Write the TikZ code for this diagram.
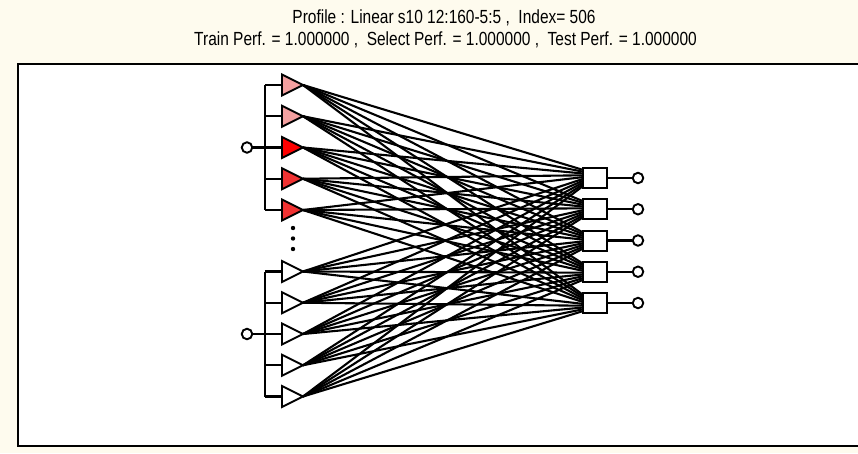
\documentclass[tikz,border=0pt]{standalone}
\usepackage{fontspec}
\newfontfamily\titlefont[FakeStretch=0.815]{Liberation Sans}
\definecolor{cream}{RGB}{254,251,238}
\definecolor{pinkA}{RGB}{244,160,160}
\definecolor{redA}{RGB}{255,0,0}
\definecolor{redB}{RGB}{240,50,50}
\begin{document}
\begin{tikzpicture}[x=1pt,y=-1pt,
  conn/.style={line width=2.1pt},
  tri/.style={draw, line width=1.9pt, line join=miter},
  wire/.style={line width=2.1pt},
  outbox/.style={draw, fill=white, line width=2pt, minimum width=24pt, minimum height=20pt, inner sep=0pt},
  term/.style={draw, fill=white, circle, line width=1.9pt, minimum size=10.5pt, inner sep=0pt},
  titletext/.style={anchor=base, inner sep=0pt, font=\titlefont\fontsize{19}{19}\selectfont}]
\useasboundingbox (0,0) rectangle (858,453);
\fill[cream] (0,0) rectangle (858,453);
% frame
\fill[white] (18,64) rectangle (870,446);
\draw[line width=2.6pt] (870,64) -- (18,64) -- (18,446) -- (870,446);
% titles
\node[titletext] (title1) at (444,23) {Profile : Linear s10 12:160-5:5 ,\ \ Index= 506};
\node[titletext] (title2) at (445.5,45) {Train Perf. = 1.000000 ,\ \ Select Perf. = 1.000000 ,\ \ Test Perf. = 1.000000};
% output boxes
\foreach \j in {1,...,5} {
  \coordinate (oc\j) at (595,{178+31.25*(\j-1)});
}
% input triangle tip coordinates
\foreach \i in {1,...,5} {
  \coordinate (t\i) at (303,{85+31.25*(\i-1)});
  \coordinate (s\i) at (265,{85+31.25*(\i-1)});
}
\foreach \i in {6,...,10} {
  \coordinate (t\i) at (303,{271.5+31.25*(\i-6)});
  \coordinate (s\i) at (265,{271.5+31.25*(\i-6)});
}
% connectors (ends spread along each box's left side)
\foreach \i in {1,...,10} {
  \foreach \j in {1,...,5} {
    \draw[conn] (t\i) -- ([xshift=-12pt,yshift={(5.5-\i)*1.8pt}]oc\j);
  }
}
% output nodes
\foreach \j in {1,...,5} {
  \node[term] (out\j) at ([xshift=43pt]oc\j) {};
  \draw[wire] (oc\j) -- (out\j);
  \node[outbox] (o\j) at (oc\j) {};
}
% input triangles
\foreach \i/\c in {1/pinkA,2/pinkA,3/redA,4/redB,5/redB,6/white,7/white,8/white,9/white,10/white} {
  \draw[tri, fill=\c] ([xshift=-21pt,yshift=10.5pt]t\i) -- (t\i) -- ([xshift=-21pt,yshift=-10.5pt]t\i) -- cycle;
  \draw[wire] (s\i) -- ([xshift=-21pt]t\i);
}
% brackets
\draw[wire] (s1) -- (s5);
\draw[wire] (s6) -- (s10);
\node[term] (in1) at (247,147.5) {};
\node[term] (in2) at (247,334) {};
\draw[wire] (in1) -- (s3);
\draw[wire] (in2) -- (s8);
% ellipsis dots
\foreach \k/\yy in {1/228,2/238.5,3/249} {
  \fill (293,\yy) circle (2.2pt);
}
\end{tikzpicture}
\end{document}
